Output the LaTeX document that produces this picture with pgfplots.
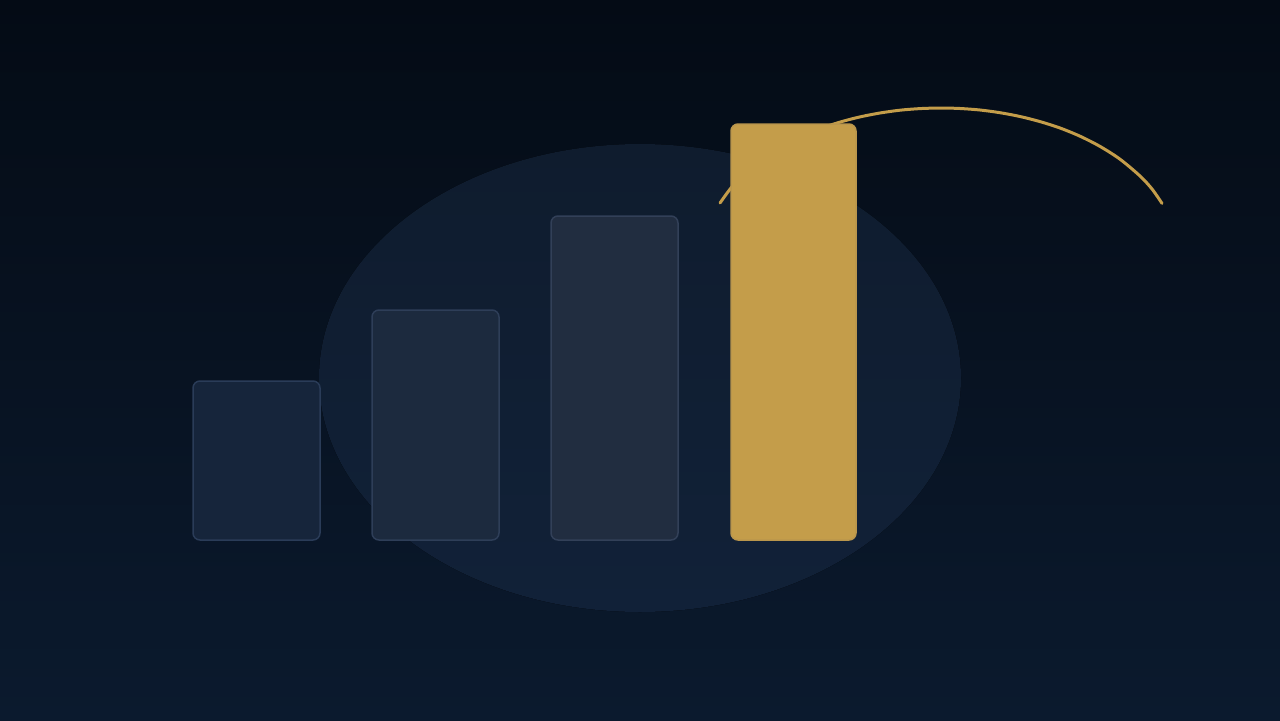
\documentclass[border=0pt]{standalone}
\usepackage{pgfplots}
\pgfplotsset{compat=1.18}

\definecolor{bgtop}{RGB}{4,11,21}
\definecolor{bgbot}{RGB}{11,26,46}
\definecolor{elltop}{RGB}{15,28,46}
\definecolor{ellbot}{RGB}{17,33,56}
\definecolor{barA}{RGB}{22,37,59}
\definecolor{barB}{RGB}{28,42,62}
\definecolor{barC}{RGB}{33,45,64}
\definecolor{barD}{RGB}{196,157,74}
\definecolor{edgeA}{RGB}{42,60,88}
\definecolor{edgeB}{RGB}{46,62,88}
\definecolor{edgeC}{RGB}{50,64,88}
\definecolor{edgeD}{RGB}{186,150,76}

\begin{document}
\begin{tikzpicture}
\begin{axis}[
    scale only axis,
    width=640pt, height=360pt,
    xmin=0, xmax=1280,
    ymin=-180, ymax=540,
    hide axis,
    clip=true,
]
% background and halo
\fill[top color=bgtop, bottom color=bgbot] (axis cs:0,-180) rectangle (axis cs:1280,540);
\fill[top color=elltop, bottom color=ellbot] (axis cs:640,162) ellipse [x radius=321, y radius=234];

% bars (base at y=0)
\addplot[ybar, bar width=127, bar shift=0pt, fill=barA, draw=edgeA, line width=0.75pt, rounded corners=3.5pt]
    coordinates {(256.5,159)};
\addplot[ybar, bar width=127, bar shift=0pt, fill=barB, draw=edgeB, line width=0.75pt, rounded corners=3.5pt]
    coordinates {(435.5,230)};
\addplot[ybar, bar width=127, bar shift=0pt, fill=barC, draw=edgeC, line width=0.75pt, rounded corners=3.5pt]
    coordinates {(614.5,324)};

% gold arc, passes behind the last bar
\addplot[smooth, draw=barD, line width=1.5pt, line cap=round] coordinates {
    (720,337) (730,350.8) (740,362) (760,379.3) (780,392.5) (800,402.9)
    (820,411.2) (840,417.9) (860,423.1) (880,427) (900,429.8) (920,431.4)
    (941,432) (960,431.5) (980,430) (1000,427.3) (1020,423.5) (1040,418.4)
    (1060,412) (1080,403.8) (1100,393.6) (1120,380.8) (1140,364)
    (1152,351) (1162,336.6)
};

\addplot[ybar, bar width=125, bar shift=0pt, fill=barD, draw=edgeD, line width=0.75pt, rounded corners=3.5pt]
    coordinates {(793.5,416)};
\end{axis}
\end{tikzpicture}
\end{document}
